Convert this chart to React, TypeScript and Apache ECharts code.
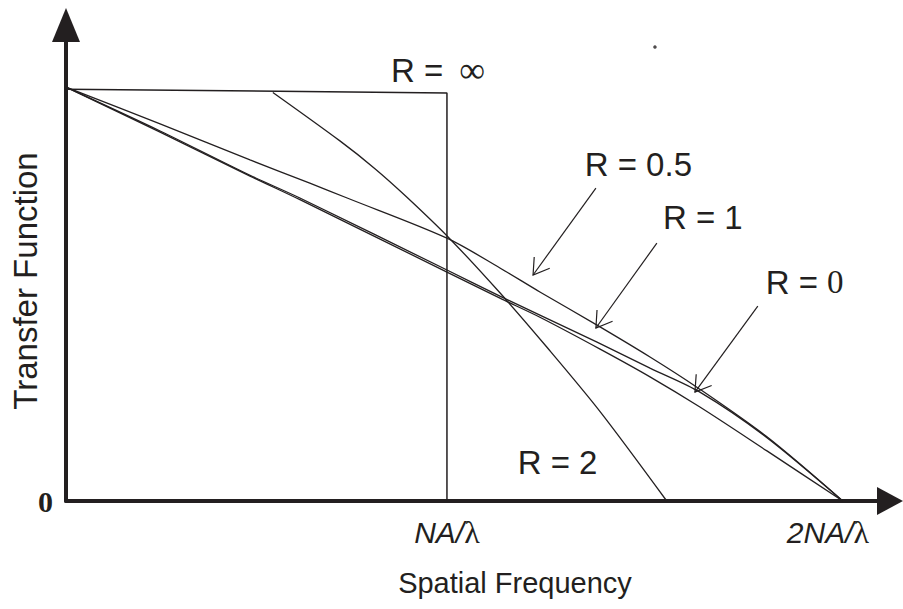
import { useEffect, useRef } from 'react';
import * as echarts from 'echarts';

const INK = '#231f20';
const SANS = "'Liberation Sans', Arial, sans-serif";
const SERIF = "'Liberation Serif', 'Times New Roman', serif";

// Spatial frequency in units of NA/λ, transfer function normalised to 1 at zero frequency.
const coherentX = [0, 1.0, 1.0];
const coherentY = [0.995, 0.986, 0];

// R = 2 follows the coherent plateau up to its break point, then falls off.
const r2X = [0.543, 0.719, 0.811, 0.895, 1.003, 1.139, 1.262, 1.402, 1.577];
const r2Y = [0.987, 0.87, 0.803, 0.734, 0.638, 0.503, 0.372, 0.216, 0];

const r05X = [0, 0.247, 0.483, 0.64, 0.738, 1.0, 1.139, 1.244, 1.394, 1.533, 1.656, 1.84, 2.039];
const r05Y = [1, 0.911, 0.824, 0.768, 0.732, 0.635, 0.563, 0.505, 0.425, 0.348, 0.275, 0.155, 0];

const r1X = [0, 0.247, 0.483, 0.614, 1.0, 1.139, 1.244, 1.394, 1.533, 1.664, 1.84, 2.039];
const r1Y = [1, 0.894, 0.787, 0.732, 0.558, 0.495, 0.449, 0.384, 0.321, 0.263, 0.153, 0];

const r0X = [0, 0.247, 0.483, 0.614, 1.0, 1.139, 1.244, 1.402, 1.533, 1.664, 1.84, 2.039];
const r0Y = [1, 0.891, 0.785, 0.728, 0.553, 0.49, 0.444, 0.367, 0.3, 0.227, 0.121, 0];

// Axis tick labels
const freqTickValues = [1, 2];
const freqTickLabels = ['NA/', '2NA/'];
const freqTickUnit = 'λ';
const transferTickValues = [0];
const transferTickLabels = ['0'];

// Curve labels (name, value, anchor in data space)
const curveNames = ['R =', 'R =', 'R =', 'R =', 'R ='];
const curveValues = ['∞', '0.5', '1', '0', '2'];
const curveValueSerif = [true, false, false, true, false];
const labelX = [0.853, 1.362, 1.567, 1.837, 1.186];
const labelY = [1.041, 0.812, 0.684, 0.529, 0.094];

// Pointer arrows from each label down to its curve
const arrowFromX = [1.391, 1.551, 1.816];
const arrowFromY = [0.756, 0.623, 0.471];
const arrowToX = [1.226, 1.391, 1.651];
const arrowToY = [0.546, 0.418, 0.263];

// Stray mark above the R = 0.5 label
const dotX = [1.546];
const dotY = [1.097];

const zip = (xs: number[], ys: number[]) => xs.map((x, i) => [x, ys[i]]);

const curve = (name: string, xs: number[], ys: number[], smooth: number | boolean, width: number) => ({
  name,
  type: 'line',
  data: zip(xs, ys),
  symbol: 'none',
  showSymbol: false,
  smooth,
  clip: false,
  lineStyle: { color: INK, width },
  z: 3,
});

export default function App() {
  const ref = useRef<HTMLDivElement | null>(null);

  useEffect(() => {
    if (!ref.current) return;
    const chart = echarts.init(ref.current, null, { renderer: 'svg' });

    const option: any = {
      animation: false,
      backgroundColor: '#ffffff',
      grid: { left: 66, right: 13, top: 25, bottom: 108, containLabel: false },
      xAxis: {
        type: 'value',
        min: 0,
        max: 2.163,
        interval: 1,
        axisLine: {
          show: true,
          onZero: false,
          symbol: ['none', 'triangle'],
          symbolSize: [28, 26],
          lineStyle: { color: INK, width: 4 },
        },
        axisTick: { show: false },
        splitLine: { show: false },
        axisLabel: {
          margin: 15,
          color: INK,
          formatter: (v: number) => {
            const i = freqTickValues.indexOf(v);
            return i < 0 ? '' : `{i|${freqTickLabels[i]}}{l|${freqTickUnit}}`;
          },
          rich: {
            i: { fontFamily: SANS, fontStyle: 'italic', fontSize: 30, color: INK },
            l: { fontFamily: SERIF, fontSize: 32, color: INK },
          },
        },
      },
      yAxis: {
        type: 'value',
        min: 0,
        max: 1.15,
        interval: 1,
        axisLine: {
          show: true,
          onZero: false,
          symbol: ['none', 'triangle'],
          symbolSize: [28, 34],
          lineStyle: { color: INK, width: 4 },
        },
        axisTick: { show: false },
        splitLine: { show: false },
        axisLabel: {
          margin: 13,
          color: INK,
          fontFamily: SERIF,
          fontWeight: 'bold',
          fontSize: 30,
          formatter: (v: number) => {
            const i = transferTickValues.indexOf(v);
            return i < 0 ? '' : transferTickLabels[i];
          },
        },
      },
      graphic: [
        {
          type: 'text',
          x: 515,
          y: 583,
          style: {
            text: 'Spatial Frequency',
            fontFamily: SANS,
            fontSize: 29,
            fill: INK,
            align: 'center',
            verticalAlign: 'middle',
          },
        },
        {
          type: 'text',
          x: 25,
          y: 281,
          rotation: Math.PI / 2,
          style: {
            text: 'Transfer Function',
            fontFamily: SANS,
            fontSize: 33,
            fill: INK,
            align: 'center',
            verticalAlign: 'middle',
          },
        },
      ],
      series: [
        curve('R = ∞', coherentX, coherentY, false, 1.5),
        curve('R = 2', r2X, r2Y, 0.3, 1.3),
        curve('R = 0.5', r05X, r05Y, 0.3, 1.3),
        curve('R = 1', r1X, r1Y, 0.3, 1.3),
        curve('R = 0', r0X, r0Y, 0.3, 1.3),
        {
          type: 'custom',
          name: 'pointers',
          clip: false,
          encode: { x: [0, 2], y: [1, 3] },
          data: arrowFromX.map((x, i) => [x, arrowFromY[i], arrowToX[i], arrowToY[i]]),
          renderItem: (_params: any, api: any) => {
            const s = api.coord([api.value(0), api.value(1)]);
            const t = api.coord([api.value(2), api.value(3)]);
            const ang = Math.atan2(s[1] - t[1], s[0] - t[0]);
            const len = 18;
            const spread = Math.PI / 5.6;
            const a1 = [t[0] + len * Math.cos(ang + spread), t[1] + len * Math.sin(ang + spread)];
            const a2 = [t[0] + len * Math.cos(ang - spread), t[1] + len * Math.sin(ang - spread)];
            return {
              type: 'group',
              children: [
                {
                  type: 'line',
                  shape: { x1: s[0], y1: s[1], x2: t[0], y2: t[1] },
                  style: { stroke: INK, lineWidth: 1.2 },
                },
                {
                  type: 'polyline',
                  shape: { points: [a1, t, a2] },
                  style: { stroke: INK, lineWidth: 1.2, fill: null },
                },
              ],
            };
          },
          z: 4,
        },
        {
          type: 'custom',
          name: 'curve labels',
          clip: false,
          data: labelX.map((x, i) => [x, labelY[i]]),
          renderItem: (params: any, api: any) => {
            const i = params.dataIndex;
            const p = api.coord([api.value(0), api.value(1)]);
            const valueStyle = curveValueSerif[i] ? 'v' : 'w';
            return {
              type: 'text',
              x: p[0],
              y: p[1],
              style: {
                text: `{n|${curveNames[i]}}{${valueStyle}|${curveValues[i]}}`,
                align: 'left',
                verticalAlign: 'middle',
                rich: {
                  n: { fontFamily: SANS, fontSize: 33, fill: INK, color: INK },
                  w: { fontFamily: SANS, fontSize: 33, fill: INK, color: INK, padding: [0, 0, 0, 9] },
                  v: {
                    fontFamily: SERIF,
                    fontSize: curveValues[i] === '∞' ? 36 : 33,
                    fill: INK,
                    color: INK,
                    padding: [0, 0, 0, curveValues[i] === '∞' ? 16 : 9],
                  },
                },
              },
            };
          },
          z: 5,
        },
        {
          type: 'scatter',
          name: 'mark',
          data: zip(dotX, dotY),
          symbol: 'circle',
          symbolSize: 3.5,
          itemStyle: { color: INK },
          silent: true,
        },
      ],
    };

    chart.setOption(option);
    return () => chart.dispose();
  }, []);

  return (
    <div
      ref={ref}
      style={{ position: 'fixed', left: 0, top: 0, width: 903, height: 609, background: '#ffffff' }}
    />
  );
}
